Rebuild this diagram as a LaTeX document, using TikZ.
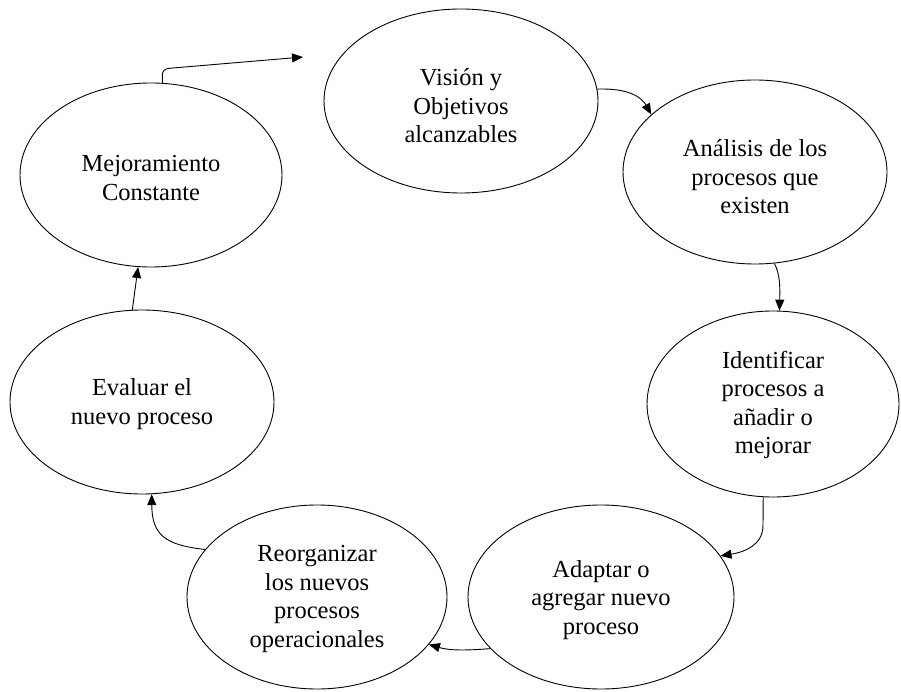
\documentclass[tikz,border=0pt]{standalone}
\usepackage{fontspec}
\setmainfont{Liberation Serif}
\usetikzlibrary{arrows.meta,shapes.geometric,calc}
\begin{document}
\begin{tikzpicture}[x=1pt,y=-1pt,
  stage/.style={draw, ellipse, line width=0.9pt, inner sep=0pt},
  lbl/.style={align=center, font=\fontsize{24.5}{28.5}\selectfont, inner sep=0pt},
  arr/.style={line width=0.9pt, -{Triangle[length=11pt,width=9pt]}}]
\useasboundingbox (0,0) rectangle (901,692);
% ellipses
\node[stage, minimum width=274pt, minimum height=184pt] (vis) at (461,101) {};
\node[stage, minimum width=264pt, minimum height=184pt] (ana) at (755,172) {};
\node[stage, minimum width=252pt, minimum height=186pt] (ide) at (773,404) {};
\node[stage, minimum width=266pt, minimum height=184pt] (ada) at (601,597) {};
\node[stage, minimum width=260pt, minimum height=184pt] (reo) at (317,597) {};
\node[stage, minimum width=264pt, minimum height=184pt] (eva) at (142,402) {};
\node[stage, minimum width=262pt, minimum height=184pt] (mej) at (151,175) {};
% texts
\node[lbl] (visT) at (461,106) {Visión y\\Objetivos\\alcanzables};
\node[lbl] (anaT) at (755,177) {Análisis de los\\procesos que\\existen};
\node[lbl] (ideT) at (773,405) {Identificar\\procesos a\\añadir o\\mejorar};
\node[lbl] (adaT) at (601,600) {Adaptar o\\agregar nuevo\\proceso};
\node[lbl] (reoT) at (317,599) {Reorganizar\\los nuevos\\procesos\\operacionales};
\node[lbl] (evaT) at (142,404) {Evaluar el\\nuevo proceso};
\node[lbl] (mejT) at (151,178) {Mejoramiento\\Constante};
% connectors
\coordinate (c1) at (303,57);
\draw[arr, rounded corners=6pt] (mej.83) -- ($(mej.83)+(0,-14)$) -- (c1);
\draw[arr] (vis.5.5) .. controls (630,88) and (642,98) .. (ana.151);
\draw[arr] (ana.-78) .. controls (780,275) and (780,285) .. (ide.86);
\draw[arr] (ide.-96) -- (763,525) .. controls (763,545) and (745,552) .. (ada.19);
\draw[arr] (ada.-155) .. controls (460,651) and (448,650) .. (reo.-23);
\draw[arr] (reo.157) .. controls (165,545) and (152,535) .. (eva.-84);
\draw[arr] (eva.96) -- (mej.-98);
\end{tikzpicture}
\end{document}
